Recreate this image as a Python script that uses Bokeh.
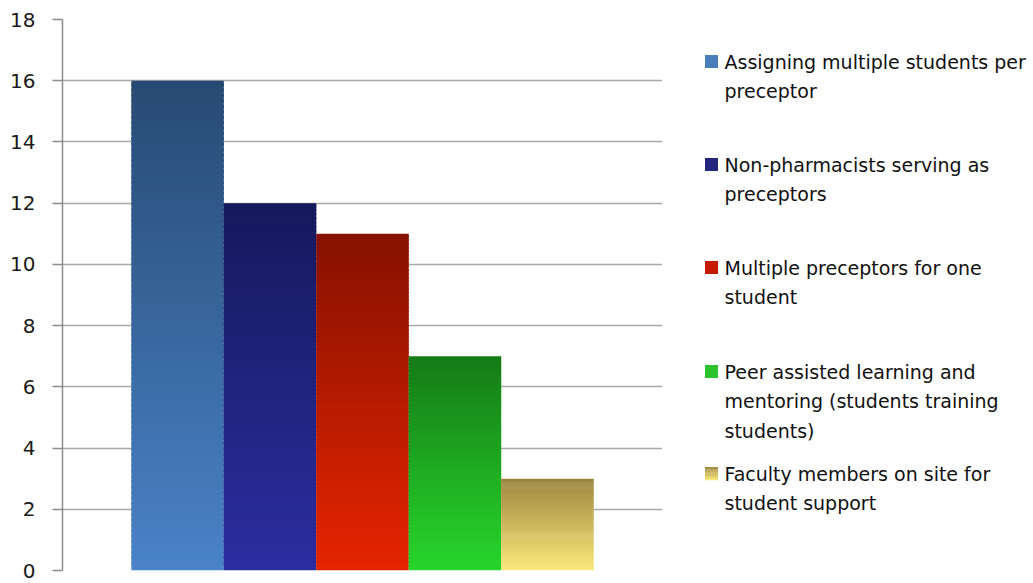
from bokeh.plotting import figure
from bokeh.layouts import row
from bokeh.models import Range1d, FixedTicker
from bokeh.core.properties import value
from bokeh.embed import file_html
from bokeh.resources import INLINE

# ---- data ----
series = [
    "Assigning multiple students per preceptor",
    "Non-pharmacists serving as preceptors",
    "Multiple preceptors for one student",
    "Peer assisted learning and mentoring (students training students)",
    "Faculty members on site for student support",
]
legend_lines = [
    ["Assigning multiple students per", "preceptor"],
    ["Non-pharmacists serving as", "preceptors"],
    ["Multiple preceptors for one", "student"],
    ["Peer assisted learning and", "mentoring (students training", "students)"],
    ["Faculty members on site  for", "student support"],
]
values = [16, 12, 11, 7, 3]
y_ticks = [0, 2, 4, 6, 8, 10, 12, 14, 16, 18]

# gradient colours (top, bottom) per series
top_colors = ["#274A73", "#16195C", "#861100", "#157A16", "#9C8640"]
bottom_colors = ["#4A83C8", "#2C2DA0", "#E62400", "#28D62C", "#FBEA7C"]
legend_colors = ["#4A7EBB", "#23257F", "#C41A00", "#2CC42C", None]

FONT = "DejaVu Sans"
FS = "19px"
TOP, BOTTOM = 19, 13


def hex2rgb(h):
    h = h.lstrip("#")
    return tuple(int(h[i:i + 2], 16) for i in (0, 2, 4))


def mix(c1, c2, t):
    a, b = hex2rgb(c1), hex2rgb(c2)
    return "#%02x%02x%02x" % tuple(round(a[k] + (b[k] - a[k]) * t) for k in range(3))


p = figure(width=662, height=583, output_backend="svg", toolbar_location=None,
           x_range=Range1d(0, 6.49), y_range=Range1d(0, 18),
           min_border_left=62, min_border_right=0, min_border_top=TOP, min_border_bottom=BOTTOM)
p.outline_line_color = None
p.xaxis.visible = False
p.xgrid.visible = False
p.ygrid.grid_line_color = "#A8A8A8"
p.ygrid.grid_line_width = 1.5
p.yaxis.ticker = FixedTicker(ticks=y_ticks)
p.yaxis.axis_line_color = "#8C8C8C"
p.yaxis.axis_line_width = 1.5
p.yaxis.major_tick_line_color = "#8C8C8C"
p.yaxis.major_tick_line_width = 1.5
p.yaxis.major_tick_out = 10
p.yaxis.major_tick_in = 0
p.yaxis.minor_tick_line_color = None
p.yaxis.major_label_text_font = FONT
p.yaxis.major_label_text_font_size = "20px"
p.yaxis.major_label_text_color = "#1A1A1A"
p.yaxis.major_label_standoff = 17

offset = 0.745
N = 90
L, R, B, T, C = [], [], [], [], []
for i, v in enumerate(values):
    for j in range(N):
        b = v * j / N
        t = v * (j + 1) / N
        L.append(offset + i)
        R.append(offset + i + 1)
        B.append(b)
        T.append(t + (v / N) * 0.6 if j < N - 1 else t)
        C.append(mix(bottom_colors[i], top_colors[i], (j + 0.5) / N))
p.quad(left=L, right=R, bottom=B, top=T, fill_color=C, line_color=None)

# ---- legend panel (same frame borders as the chart, y in screen pixels) ----
lg = figure(width=371, height=583, output_backend="svg", toolbar_location=None,
            x_range=Range1d(0, 371), y_range=Range1d(583 - BOTTOM, TOP),
            min_border_left=0, min_border_right=0, min_border_top=TOP, min_border_bottom=BOTTOM)
lg.axis.visible = False
lg.grid.visible = False
lg.outline_line_color = None

item_y = [61, 164, 267, 371, 473]
line_h = 29.5
sq_x, sq_size, txt_x = 49, 13, 62
tx, ty, tt = [], [], []
for i, lines in enumerate(legend_lines):
    for k, s in enumerate(lines):
        tx.append(txt_x)
        ty.append(item_y[i] + k * line_h)
        tt.append(s)
    if legend_colors[i] is not None:
        lg.rect(x=[sq_x], y=[item_y[i]], width=sq_size, height=sq_size,
                fill_color=legend_colors[i], line_color=None)
    else:
        M = 12
        for j in range(M):
            yt = item_y[i] - sq_size / 2 + j * sq_size / M
            lg.quad(left=[sq_x - sq_size / 2], right=[sq_x + sq_size / 2],
                    top=[yt], bottom=[yt + sq_size / M + 0.3],
                    fill_color=mix(top_colors[i], bottom_colors[i], (j + 0.5) / M),
                    line_color=None)
lg.text(x=tx, y=ty, text=tt, text_font=value(FONT), text_font_size=FS,
        text_baseline="middle", text_align="left", text_color="#111111")

layout = row(p, lg, spacing=0)
open("out.html", "w").write(file_html(layout, INLINE))
